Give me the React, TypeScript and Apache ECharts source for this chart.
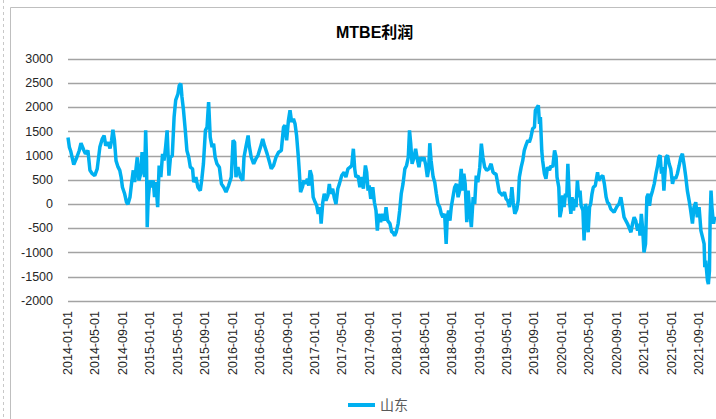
import React, { useEffect, useRef } from "react";
import * as echarts from "echarts";

const title = "MTBE利润";
const seriesName = "山东";
const yTicks = { min: -2000, max: 3000, interval: 500 };
const xStartYear = 2014;
const xEndDate = "2021-11-15";

const s2014: [string, number][] = [
  ["2014-01-01", 1380], ["2014-01-07", 1180], ["2014-01-13", 1100], ["2014-01-27", 820], ["2014-02-09", 970],
  ["2014-02-19", 1110], ["2014-02-26", 1260], ["2014-03-11", 1110], ["2014-03-18", 1040], ["2014-03-29", 1110],
  ["2014-04-07", 700], ["2014-04-17", 630], ["2014-04-28", 590], ["2014-05-09", 730], ["2014-05-21", 1180],
  ["2014-06-01", 1350], ["2014-06-09", 1420], ["2014-06-16", 1210], ["2014-06-26", 1280], ["2014-07-05", 1150],
  ["2014-07-12", 1320], ["2014-07-18", 1540], ["2014-07-25", 1320], ["2014-08-01", 900], ["2014-08-10", 770],
  ["2014-08-18", 700], ["2014-08-24", 560], ["2014-08-30", 350], ["2014-09-09", 210], ["2014-09-17", 40],
  ["2014-09-23", 0], ["2014-10-02", 145], ["2014-10-09", 420], ["2014-10-17", 700], ["2014-10-23", 455],
  ["2014-10-30", 765], ["2014-11-04", 970], ["2014-11-11", 490], ["2014-11-19", 630], ["2014-11-25", 1075],
  ["2014-11-30", 900], ["2014-12-06", 560], ["2014-12-11", 1525], ["2014-12-15", 900], ["2014-12-18", -475],
  ["2014-12-22", 75], ["2014-12-30", 490],
];

const s2015: [string, number][] = [
  ["2015-01-07", 350], ["2015-01-14", 490], ["2015-01-20", 145], ["2015-01-26", 455], ["2015-02-03", -60],
  ["2015-02-09", 800], ["2015-02-16", 560], ["2015-02-23", 1040], ["2015-03-01", 900], ["2015-03-08", 1180],
  ["2015-03-15", 1525], ["2015-03-23", 590], ["2015-03-30", 970], ["2015-04-07", 1000], ["2015-04-15", 1800],
  ["2015-04-22", 2150], ["2015-05-02", 2280], ["2015-05-08", 2455], ["2015-05-15", 2490], ["2015-05-20", 2215],
  ["2015-05-27", 1940], ["2015-06-04", 1525], ["2015-06-11", 1110], ["2015-06-19", 970], ["2015-06-26", 765],
  ["2015-07-06", 730], ["2015-07-11", 455], ["2015-07-21", 560], ["2015-07-30", 350], ["2015-08-10", 280],
  ["2015-08-17", 525], ["2015-08-24", 835], ["2015-09-02", 1525], ["2015-09-09", 1590], ["2015-09-16", 2110],
  ["2015-09-23", 1385], ["2015-10-01", 1180], ["2015-10-08", 1250], ["2015-10-15", 970], ["2015-10-23", 835],
  ["2015-11-03", 765], ["2015-11-12", 420], ["2015-11-22", 350], ["2015-12-02", 250], ["2015-12-14", 385],
  ["2015-12-26", 560],
];

const s2016: [string, number][] = [
  ["2016-01-03", 1320], ["2016-01-10", 1280], ["2016-01-16", 560], ["2016-01-25", 765], ["2016-02-05", 560],
  ["2016-02-15", 490], ["2016-02-20", 970], ["2016-02-28", 1180], ["2016-03-09", 1420], ["2016-03-14", 1210],
  ["2016-03-23", 970], ["2016-04-03", 835], ["2016-04-13", 940], ["2016-04-22", 1010], ["2016-05-03", 1180],
  ["2016-05-13", 1350], ["2016-05-21", 1210], ["2016-06-02", 1040], ["2016-06-12", 870], ["2016-06-20", 730],
  ["2016-06-30", 800], ["2016-07-11", 970], ["2016-07-23", 1075], ["2016-08-04", 1110], ["2016-08-14", 1590],
  ["2016-08-20", 1630], ["2016-08-28", 1320], ["2016-09-05", 1730], ["2016-09-12", 1940], ["2016-09-19", 1700],
  ["2016-09-27", 1765], ["2016-10-04", 1660], ["2016-10-11", 1420], ["2016-10-19", 970], ["2016-10-23", 700],
  ["2016-10-29", 250], ["2016-11-06", 350], ["2016-11-13", 490], ["2016-11-19", 420], ["2016-11-28", 525],
  ["2016-12-04", 385], ["2016-12-10", 700], ["2016-12-17", 590], ["2016-12-24", 145],
];

const s2017: [string, number][] = [
  ["2017-01-02", 40], ["2017-01-09", -30], ["2017-01-16", -200], ["2017-01-24", -60], ["2017-01-29", -400],
  ["2017-02-05", 40], ["2017-02-11", 215], ["2017-02-18", 75], ["2017-02-26", 180], ["2017-03-04", 420],
  ["2017-03-10", 215], ["2017-03-19", 320], ["2017-03-26", 145], ["2017-04-03", 5], ["2017-04-11", 320],
  ["2017-04-18", 420], ["2017-04-28", 590], ["2017-05-09", 660], ["2017-05-17", 560], ["2017-05-26", 730],
  ["2017-06-05", 765], ["2017-06-12", 800], ["2017-06-19", 1145], ["2017-06-25", 730], ["2017-06-30", 560],
  ["2017-07-10", 590], ["2017-07-18", 350], ["2017-07-26", 560], ["2017-08-03", 320], ["2017-08-12", 800],
  ["2017-08-18", 660], ["2017-08-24", 280], ["2017-08-29", 385], ["2017-09-05", 110], ["2017-09-14", 350],
  ["2017-09-21", 40], ["2017-09-28", -130], ["2017-10-04", -545], ["2017-10-10", -200], ["2017-10-19", -370],
  ["2017-10-27", -200], ["2017-11-06", -340], ["2017-11-12", -60], ["2017-11-19", -340], ["2017-11-29", -400],
  ["2017-12-07", -580], ["2017-12-13", -580], ["2017-12-20", -650], ["2017-12-27", -580],
];

const s2018: [string, number][] = [
  ["2018-01-05", -400], ["2018-01-12", -130], ["2018-01-19", 215], ["2018-01-27", 420], ["2018-02-04", 730],
  ["2018-02-11", 800], ["2018-02-18", 970], ["2018-02-23", 1525], ["2018-02-28", 1250], ["2018-03-06", 835],
  ["2018-03-15", 970], ["2018-03-22", 1145], ["2018-03-29", 940], ["2018-04-06", 765], ["2018-04-12", 970],
  ["2018-04-20", 900], ["2018-04-28", 970], ["2018-05-06", 800], ["2018-05-13", 560], ["2018-05-19", 730],
  ["2018-05-24", 1260], ["2018-05-30", 900], ["2018-06-08", 560], ["2018-06-15", 455], ["2018-06-22", 215],
  ["2018-06-29", 5], ["2018-07-07", -60], ["2018-07-14", -200], ["2018-07-21", -270], ["2018-07-29", -200],
  ["2018-08-05", -820], ["2018-08-10", -270], ["2018-08-16", -130], ["2018-08-22", -340], ["2018-08-28", -60],
  ["2018-09-07", 215], ["2018-09-12", 350], ["2018-09-20", 420], ["2018-09-27", 145], ["2018-10-04", 280],
  ["2018-10-11", 730], ["2018-10-17", 280], ["2018-10-23", 630], ["2018-10-29", 420], ["2018-11-05", -370],
  ["2018-11-11", 280], ["2018-11-18", -130], ["2018-11-25", -475], ["2018-12-03", 145], ["2018-12-10", 5],
  ["2018-12-17", 590], ["2018-12-24", 455],
];

const s2019: [string, number][] = [
  ["2019-01-02", 765], ["2019-01-09", 1250], ["2019-01-16", 970], ["2019-01-24", 765], ["2019-02-02", 700],
  ["2019-02-11", 730], ["2019-02-20", 835], ["2019-02-28", 660], ["2019-03-07", 630], ["2019-03-13", 630],
  ["2019-03-20", 455], ["2019-03-28", 250], ["2019-04-05", 215], ["2019-04-12", 180], ["2019-04-20", 250],
  ["2019-04-27", 110], ["2019-05-04", 75], ["2019-05-12", -60], ["2019-05-19", 145], ["2019-05-23", 350],
  ["2019-05-29", 40], ["2019-06-05", -200], ["2019-06-14", -100], ["2019-06-20", 75], ["2019-06-25", 560],
  ["2019-07-03", 765], ["2019-07-10", 900], ["2019-07-17", 1110], ["2019-07-24", 1210], ["2019-08-02", 1320],
  ["2019-08-09", 1280], ["2019-08-16", 1385], ["2019-08-24", 1560], ["2019-09-01", 1590], ["2019-09-05", 1940],
  ["2019-09-13", 2005], ["2019-09-18", 2040], ["2019-09-23", 1660], ["2019-09-27", 1800], ["2019-10-03", 1110],
  ["2019-10-07", 900], ["2019-10-15", 630], ["2019-10-22", 525], ["2019-10-29", 765], ["2019-11-07", 700],
  ["2019-11-14", 800], ["2019-11-21", 765], ["2019-11-29", 1110], ["2019-12-06", 970], ["2019-12-10", 560],
  ["2019-12-18", 350], ["2019-12-23", -270], ["2019-12-29", -130],
];

const s2020: [string, number][] = [
  ["2020-01-05", 180], ["2020-01-11", -60], ["2020-01-17", 215], ["2020-01-23", 145], ["2020-01-28", 835],
  ["2020-02-04", 75], ["2020-02-10", -200], ["2020-02-15", 145], ["2020-02-21", -130], ["2020-02-27", 110],
  ["2020-03-03", -60], ["2020-03-09", 490], ["2020-03-15", 145], ["2020-03-21", 280], ["2020-03-26", -30],
  ["2020-04-03", -130], ["2020-04-08", -750], ["2020-04-14", 5], ["2020-04-20", -130], ["2020-04-26", -580],
  ["2020-05-02", -60], ["2020-05-07", 5], ["2020-05-13", 215], ["2020-05-19", 350], ["2020-05-28", 385],
  ["2020-06-07", 660], ["2020-06-12", 490], ["2020-06-21", 560], ["2020-06-30", 590], ["2020-07-07", 420],
  ["2020-07-15", 145], ["2020-07-21", 40], ["2020-07-28", 5], ["2020-08-05", -100], ["2020-08-12", -130],
  ["2020-08-20", -165], ["2020-08-27", -100], ["2020-09-04", -30], ["2020-09-11", 5], ["2020-09-19", 145],
  ["2020-09-26", -60], ["2020-10-03", -270], ["2020-10-11", -340], ["2020-10-18", -400], ["2020-10-25", -475],
  ["2020-11-03", -580], ["2020-11-10", -400], ["2020-11-17", -270], ["2020-11-24", -340], ["2020-12-02", -545],
  ["2020-12-09", -400], ["2020-12-13", -650], ["2020-12-19", -200], ["2020-12-25", -510], ["2020-12-31", -995],
];

const s2021: [string, number][] = [
  ["2021-01-07", -820], ["2021-01-13", 145], ["2021-01-19", 215], ["2021-01-25", -30], ["2021-01-30", 145],
  ["2021-02-07", 280], ["2021-02-14", 420], ["2021-02-21", 630], ["2021-02-28", 800], ["2021-03-05", 970],
  ["2021-03-11", 1010], ["2021-03-17", 630], ["2021-03-22", 765], ["2021-03-28", 280], ["2021-04-06", 970],
  ["2021-04-13", 1010], ["2021-04-20", 835], ["2021-04-27", 730], ["2021-05-05", 420], ["2021-05-12", 560],
  ["2021-05-19", 525], ["2021-05-27", 630], ["2021-06-04", 800], ["2021-06-11", 970], ["2021-06-18", 1040],
  ["2021-06-26", 800], ["2021-07-03", 560], ["2021-07-10", 280], ["2021-07-18", 75], ["2021-07-25", -130],
  ["2021-08-02", -400], ["2021-08-09", -60], ["2021-08-17", 40], ["2021-08-24", -270], ["2021-09-01", -60],
  ["2021-09-09", -545], ["2021-09-16", -680], ["2021-09-23", -820], ["2021-09-26", -1300], ["2021-09-30", -1165],
  ["2021-10-08", -1580], ["2021-10-12", -1650], ["2021-10-17", -1370], ["2021-10-20", -270], ["2021-10-24", 280],
  ["2021-10-28", -60], ["2021-11-04", -400], ["2021-11-10", -270], ["2021-11-14", -340],
];

function monthIndex(d: string): number {
  const [y, m, day] = d.split("-").map(Number);
  const dim = new Date(y, m, 0).getDate();
  return (y - xStartYear) * 12 + (m - 1) + (day - 1) / dim;
}

function monthLabel(v: number): string {
  const r = Math.round(v);
  if (Math.abs(v - r) > 1e-6 || r % 4 !== 0) return "";
  const y = xStartYear + Math.floor(r / 12);
  const mo = (r % 12) + 1;
  return `${y}-${mo < 10 ? "0" + mo : mo}-01`;
}

const FONT = "'Liberation Sans', 'Noto Sans CJK SC', sans-serif";

export default function App() {
  const ref = useRef<HTMLDivElement>(null);
  useEffect(() => {
    if (!ref.current) return;
    const chart = echarts.init(ref.current, undefined, { renderer: "svg" });
    const all = [...s2014, ...s2015, ...s2016, ...s2017, ...s2018, ...s2019, ...s2020, ...s2021];
    const data = all.map(([d, v]) => [monthIndex(d), v]);
    chart.setOption({
      animation: false,
      backgroundColor: "#ffffff",
      textStyle: { fontFamily: FONT },
      title: {
        text: title,
        left: 331,
        top: 19,
        textStyle: { fontSize: 16, fontWeight: "bold", color: "#000", fontFamily: FONT },
      },
      legend: {
        data: [seriesName],
        left: 343,
        top: 393,
        icon: "rect",
        itemWidth: 27,
        itemHeight: 4,
        itemGap: 4,
        textStyle: { fontSize: 14, color: "#595959", fontFamily: FONT },
      },
      grid: { left: 68, right: 0, top: 59, bottom: 118, containLabel: false },
      xAxis: {
        type: "value",
        min: 0,
        max: monthIndex(xEndDate),
        interval: 4,
        axisLine: { show: false },
        axisTick: { show: false },
        splitLine: { show: false },
        axisLabel: {
          rotate: 90,
          margin: 10,
          fontSize: 12.5,
          color: "#262626",
          fontFamily: FONT,
          showMaxLabel: false,
          formatter: (v: number) => monthLabel(v),
        },
      },
      yAxis: {
        type: "value",
        min: yTicks.min,
        max: yTicks.max,
        interval: yTicks.interval,
        axisLine: { show: false },
        axisTick: { show: false },
        splitLine: { lineStyle: { color: "#a3a3a3", width: 1.3 } },
        axisLabel: {
          margin: 15,
          fontSize: 12.5,
          color: "#262626",
          fontFamily: FONT,
          formatter: (v: number) => String(v),
        },
      },
      graphic: [
        {
          type: "rect",
          shape: { x: 10.5, y: 7.5, width: 740, height: 440 },
          style: { fill: "none", stroke: "#bfbfbf", lineWidth: 1 },
          silent: true,
          z: -1,
        },
        {
          type: "line",
          shape: { x1: 3.5, y1: 0, x2: 3.5, y2: 419 },
          style: { stroke: "#c8c8c8", lineWidth: 1, lineDash: [3, 3] },
          silent: true,
        },
      ],
      series: [
        {
          name: seriesName,
          type: "line",
          data,
          showSymbol: false,
          symbol: "none",
          lineStyle: { color: "#00b0f0", width: 3.5 },
          itemStyle: { color: "#00b0f0" },
          clip: false,
        },
      ],
    });
    return () => chart.dispose();
  }, []);
  return (
    <div
      ref={ref}
      style={{ position: "fixed", left: 0, top: 0, width: 716, height: 419 }}
    />
  );
}
